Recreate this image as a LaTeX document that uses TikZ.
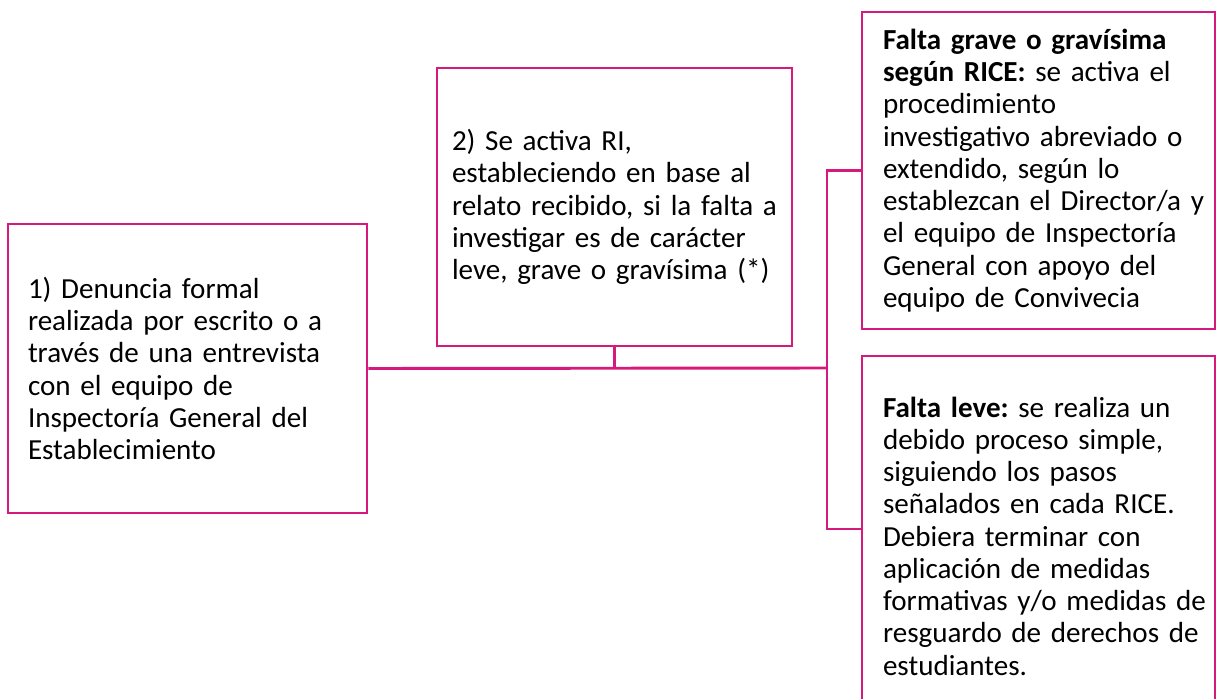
\documentclass[tikz,border=0pt]{standalone}
\usepackage{fontspec}
\setmainfont{Carlito}
\usetikzlibrary{positioning,calc}
\definecolor{rosa}{HTML}{D6197C}
\newdimen\pxu \pxu=0.75pt
\tikzset{
  caja/.style n args={3}{draw=rosa,line width=2.2pt,inner xsep=0pt,inner ysep=0pt,
    text width=#1*0.75pt,minimum height=#2*0.75pt,align=left,
    font=\fontsize{21.8pt}{24.2pt}\selectfont\frenchspacing,
    execute at begin node={\leftskip=#3\pxu}},
  enlace/.style={draw=rosa,line width=2.2pt}
}
\begin{document}
\begin{tikzpicture}[x=0.75pt,y=-0.75pt]
  \clip (0,0) rectangle (1217,699);
  \useasboundingbox (0,0) rectangle (1217,699);
  % cajas
  \node[caja={359}{289}{20}] (denuncia) at (187.5,368.5) {1) Denuncia formal\\realizada por escrito o a\\trav\'es de una entrevista\\con el equipo de\\Inspector\'ia General del\\Establecimiento};
  \node[caja={355}{278}{15}] (activa) at (614.5,207) {2) Se activa RI,\\estableciendo en base al\\relato recibido, si la falta a\\investigar es de car\'acter\\leve, grave o grav\'isima (*)};
  \node[caja={353}{317}{21}] (grave) at (1038.5,170.5) {\textbf{Falta grave o grav\'isima}\\\textbf{seg\'un RICE:} se activa el\\procedimiento\\investigativo abreviado o\\extendido, seg\'un lo\\establezcan el Director/a y\\el equipo de Inspector\'ia\\General con apoyo del\\equipo de Convivecia};
  \node[caja={353}{360}{21}] (leve) at (1038.5,536) {\textbf{Falta leve:} se realiza un\\debido proceso simple,\\siguiendo los pasos\\se\~nalados en cada RICE.\\Debiera terminar con\\aplicaci\'on de medidas\\formativas y/o medidas de\\resguardo de derechos de\\estudiantes.};
  % conectores
  \coordinate (cruce) at (827,368);
  \draw[enlace] (denuncia.east) -- (cruce);
  \draw[enlace] (activa.south) -- (activa.south |- cruce);
  \draw[enlace] (grave.west) -| (cruce) |- ([yshift=5.25pt]leve.west);
\end{tikzpicture}
\end{document}
